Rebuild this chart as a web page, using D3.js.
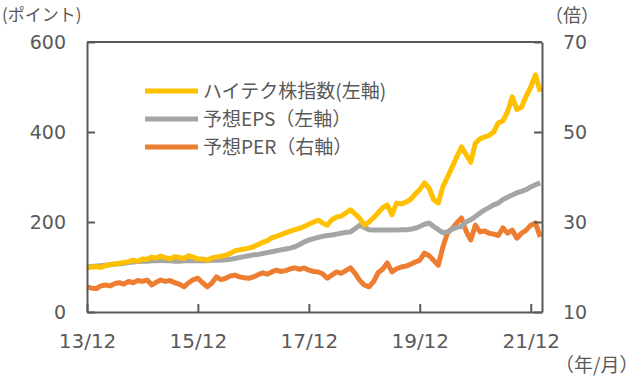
<!DOCTYPE html>
<html><head><meta charset="utf-8">
<script src="https://cdn.jsdelivr.net/npm/d3@7"></script>
<style>
body{margin:0;background:#fff;}
text{font-family:"Noto Sans CJK JP","Noto Sans",sans-serif;fill:#595959;}
</style></head>
<body><svg id="c" width="640" height="382"></svg>
<script>
// Monthly data Dec 2013 - Feb 2022
const months = d3.timeMonth.range(new Date(2013, 11, 1), new Date(2022, 2, 1));
const indexValues = [98,100,101,99,103,105,107,108,110,112,115,113,118,
 117,122,120,124,121,118,123,121,119,125,122,118,
 118,115,120,122,124,126,130,136,138,140,142,145,
 150,155,158,165,168,172,176,180,183,186,190,195,
 200,204,198,193,205,211,213,220,227,218,208,193,
 200,210,220,232,238,216,242,240,244,250,262,272,
 287,275,250,242,278,300,322,345,367,350,333,375,
 385,389,392,400,420,425,445,478,450,455,480,500,527,489];
const epsValues = [100,101,102,103,104,105,106,107,108,110,111,112,113,
 113,114,114,115,114,114,113,113,114,114,114,114,
 114,114,115,115,115,116,117,119,121,123,125,127,
 128,130,132,134,136,138,140,142,145,150,156,160,
 163,166,168,170,171,173,175,177,178,185,193,188,
 183,182,182,182,182,182,182,183,183,184,186,190,
 195,198,190,183,176,178,184,188,190,200,205,212,
 220,227,232,238,242,250,255,260,265,268,272,278,283,287];
const perValues = [15.6,15.3,15.2,15.8,16.0,15.8,16.3,16.5,16.2,16.8,16.5,17.0,16.8,
 17.1,16.0,16.6,17.1,16.8,17.0,16.5,16.2,15.6,16.5,17.2,17.5,
 16.5,15.6,16.4,17.8,17.2,17.5,18.0,18.2,17.8,17.6,17.5,17.8,
 18.3,18.7,18.4,18.9,19.3,19.0,19.2,19.6,19.8,19.5,19.8,19.3,
 19.0,18.9,18.5,17.5,18.2,18.9,18.6,19.2,19.8,18.6,17.0,16.0,
 15.6,16.8,18.7,19.5,20.9,18.9,19.6,20.0,20.2,20.6,21.1,21.5,
 23.1,22.5,21.5,20.4,24.4,27.6,28.5,29.8,30.9,28.0,26.0,29.3,
 27.8,28.0,27.5,27.3,27.0,28.7,27.5,28.2,26.4,27.5,28.2,29.3,29.8,26.7];
const xTickDates = [new Date(2013,11,1), new Date(2015,11,1), new Date(2017,11,1), new Date(2019,11,1), new Date(2021,11,1)];
const xTickLabels = ["13/12","15/12","17/12","19/12","21/12"];
const leftTicks = [0,200,400,600];
const rightTicks = [10,30,50,70];
const seriesNames = ["ハイテク株指数(左軸)","予想EPS（左軸）","予想PER（右軸）"];
const seriesColors = ["#FFC000","#A5A5A5","#ED7D31"];

const svg = d3.select("#c");
const L = 87, R = 542, T = 42, B = 312;
const x = d3.scaleTime().domain([new Date(2013,11,1), new Date(2022,1,13)]).range([L, R]);
const yL = d3.scaleLinear().domain([0,600]).range([B, T]);
const yR = d3.scaleLinear().domain([10,70]).range([B, T]);
const axisColor = "#595959";
const numFont = '"DejaVu Sans"';

// lines
const lineL = d3.line().x((d,i)=>x(months[i])).y(d=>yL(d));
const lineR = d3.line().x((d,i)=>x(months[i])).y(d=>yR(d));
const g = svg.append("g");
g.append("path").datum(perValues).attr("d", lineR).attr("fill","none").attr("stroke",seriesColors[2]).attr("stroke-width",5).attr("stroke-linejoin","round");
g.append("path").datum(epsValues).attr("d", lineL).attr("fill","none").attr("stroke",seriesColors[1]).attr("stroke-width",5).attr("stroke-linejoin","round");
g.append("path").datum(indexValues).attr("d", lineL).attr("fill","none").attr("stroke",seriesColors[0]).attr("stroke-width",5).attr("stroke-linejoin","round");

// axes (frame)
const axL = d3.axisLeft(yL).tickValues(leftTicks).tickSizeInner(-8).tickSizeOuter(0).tickPadding(21);
const axR = d3.axisRight(yR).tickValues(rightTicks).tickSizeInner(-8).tickSizeOuter(0).tickPadding(21);
const axB = d3.axisBottom(x).tickValues(xTickDates).tickFormat((d,i)=>xTickLabels[i]).tickSizeInner(-8).tickSizeOuter(0).tickPadding(22);
function style(sel, size){
  sel.selectAll("path").attr("stroke",axisColor).attr("stroke-width",2);
  sel.selectAll("line").attr("stroke",axisColor).attr("stroke-width",2);
  sel.selectAll("text").attr("fill","#666").style("font-size",size+"px").style("font-family",numFont);
}
svg.append("g").attr("transform",`translate(${L},0)`).call(axL).call(style,19);
svg.append("g").attr("transform",`translate(${R},0)`).call(axR).call(style,19);
svg.append("g").attr("transform",`translate(0,${B})`).call(axB).call(style,20);
svg.append("line").attr("x1",L).attr("x2",R).attr("y1",T).attr("y2",T).attr("stroke",axisColor).attr("stroke-width",2);

// unit labels
svg.append("text").attr("x",2).attr("y",21).style("font-size","17px").text("(ポイント)");
svg.append("text").attr("x",545).attr("y",22).style("font-size","18px").text("（倍）");
svg.append("text").attr("x",555).attr("y",372).style("font-size","19px").text("（年/月）");

// legend
const legY = [91,119,147];
seriesNames.forEach((n,i)=>{
  svg.append("line").attr("x1",145).attr("x2",198).attr("y1",legY[i]).attr("y2",legY[i]).attr("stroke",seriesColors[i]).attr("stroke-width",5);
  svg.append("text").attr("x",203).attr("y",legY[i]).attr("dy","0.35em").style("font-size","19px").text(n);
});
</script></body></html>
